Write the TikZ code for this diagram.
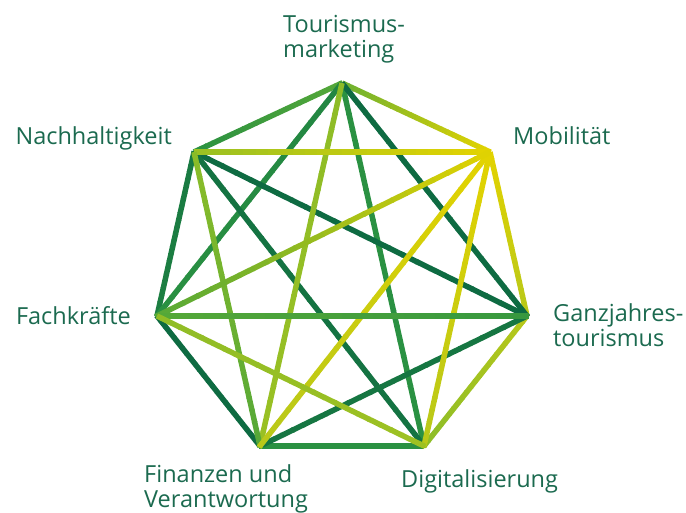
\documentclass[tikz,border=0pt]{standalone}
\usepackage{fontspec}
\setmainfont{Open Sans}
\usepackage{tikz}
\usetikzlibrary{calc}

\definecolor{dkgreen}{HTML}{0E6B42}
\definecolor{midgreen}{HTML}{2A9142}
\definecolor{lgreen}{HTML}{55A838}
\definecolor{lime}{HTML}{8CBD28}
\definecolor{ylgreen}{HTML}{B8C81A}
\definecolor{yellow}{HTML}{E3D300}
\definecolor{labelgreen}{HTML}{1B6A4F}

% gradient connector: from, to, colour at from, colour at to
\newcommand{\gline}[4]{%
  \foreach \i in {0,...,23}{
    \pgfmathsetmacro{\pa}{\i/24}
    \pgfmathsetmacro{\pb}{(\i+1.1)/24}
    \pgfmathtruncatemacro{\mx}{100-(\i+0.5)*100/24}
    \draw[edge, draw=#3!\mx!#4] ($(#1)!\pa!(#2)$) -- ($(#1)!\pb!(#2)$);
  }}

\begin{document}
\begin{tikzpicture}[x=1pt, y=-1pt,
  edge/.style={line width=5.5pt},
  lbl/.style={inner sep=0pt, text=labelgreen, align=left,
    font=\fontsize{23.5}{25}\selectfont}]
\useasboundingbox (0,0) rectangle (686,513);

\coordinate (tm) at (342,83);
\coordinate (mob) at (490,152);
\coordinate (ganz) at (527,316);
\coordinate (dig) at (424,446);
\coordinate (fin) at (260,446);
\coordinate (fach) at (157,316);
\coordinate (nach) at (194,152);

% multi-line labels: base = last line
\node[lbl, anchor=base west] (ltm) at (283,58) {Tourismus-\\marketing};
\node[lbl, anchor=base west] (lmob) at (513,145) {Mobilität};
\node[lbl, anchor=base west] (lganz) at (553,347) {Ganzjahres-\\tourismus};
\node[lbl, anchor=base west] (ldig) at (401,487) {Digitalisierung};
\node[lbl, anchor=base west] (lfin) at (144,507) {Finanzen und\\Verantwortung};
\node[lbl, anchor=base east] (lfach) at (131,324) {Fachkräfte};
\node[lbl, anchor=base east] (lnach) at (172,145) {Nachhaltigkeit};

% outer ring
\gline{tm}{mob}{lgreen!60!lime}{yellow}
\gline{mob}{ganz}{yellow}{ylgreen}
\gline{ganz}{dig}{ylgreen}{lime}
\gline{dig}{fin}{midgreen}{midgreen}
\gline{fin}{fach}{dkgreen}{dkgreen}
\gline{fach}{nach}{dkgreen!80!midgreen}{dkgreen!60!midgreen}
\gline{nach}{tm}{midgreen}{lgreen}

% long diagonals
\gline{tm}{dig}{midgreen}{midgreen}
\gline{tm}{fach}{midgreen!70!dkgreen}{midgreen}
\gline{nach}{ganz}{dkgreen}{dkgreen}
\gline{nach}{dig}{dkgreen}{dkgreen!80!midgreen}
\gline{ganz}{fin}{dkgreen}{dkgreen!70!midgreen}
\gline{tm}{ganz}{dkgreen}{dkgreen}

% short diagonals
\gline{tm}{fin}{lime!70!lgreen}{lime!70!ylgreen}
\gline{nach}{mob}{lime!70!ylgreen}{yellow}
\gline{nach}{fin}{lime}{lgreen}
\gline{mob}{dig}{yellow}{ylgreen}
\gline{mob}{fin}{yellow}{ylgreen}
\gline{mob}{fach}{yellow}{lgreen}
\gline{fach}{ganz}{lgreen}{midgreen!70!lgreen}
\gline{fach}{dig}{lime!60!lgreen}{lime!60!ylgreen}
\end{tikzpicture}
\end{document}
